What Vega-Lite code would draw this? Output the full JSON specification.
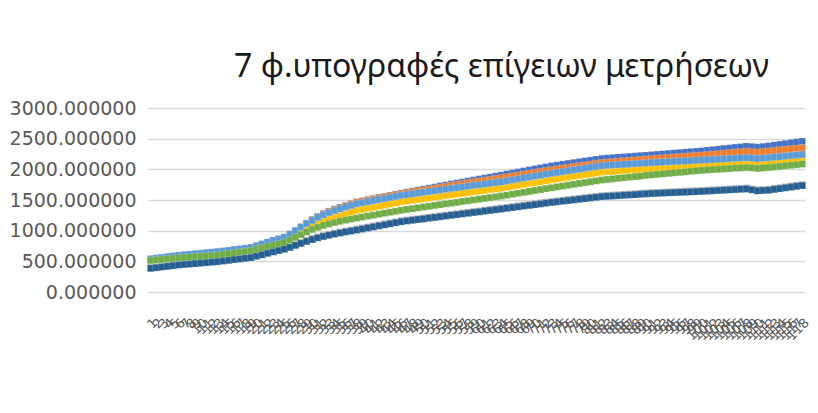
{
  "$schema": "https://vega.github.io/schema/vega-lite/v6.json",
  "width": 657,
  "height": 184,
  "autosize": {"type": "none"},
  "padding": {"left": 148, "top": 108, "right": 13, "bottom": 121},
  "background": "#ffffff",
  "title": {
    "text": "7 φ.υπογραφές επίγειων μετρήσεων",
    "font": "Noto Sans",
    "fontSize": 32,
    "fontWeight": "normal",
    "color": "#1a1a1a",
    "anchor": "middle",
    "dx": 25,
    "dy": 30,
    "offset": 20,
    "baseline": "alphabetic"
  },
  "config": {
    "view": {"stroke": null},
    "axis": {"labelFont": "DejaVu Sans", "labelColor": "#595959", "domain": false, "ticks": false, "title": null}
  },
  "datasets": {
    "s1": [{"n":1,"v":535},{"n":2,"v":546},{"n":3,"v":558},{"n":4,"v":569},{"n":5,"v":581},{"n":6,"v":592},{"n":7,"v":601},{"n":8,"v":609},{"n":9,"v":618},{"n":10,"v":626},{"n":11,"v":635},{"n":12,"v":643},{"n":13,"v":652},{"n":14,"v":663},{"n":15,"v":675},{"n":16,"v":686},{"n":17,"v":697},{"n":18,"v":709},{"n":19,"v":720},{"n":20,"v":749},{"n":21,"v":778},{"n":22,"v":808},{"n":23,"v":837},{"n":24,"v":862},{"n":25,"v":890},{"n":26,"v":940},{"n":27,"v":998},{"n":28,"v":1060},{"n":29,"v":1122},{"n":30,"v":1180},{"n":31,"v":1233},{"n":32,"v":1278},{"n":33,"v":1316},{"n":34,"v":1350},{"n":35,"v":1380},{"n":36,"v":1408},{"n":37,"v":1437},{"n":38,"v":1467},{"n":39,"v":1485},{"n":40,"v":1503},{"n":41,"v":1521},{"n":42,"v":1539},{"n":43,"v":1556},{"n":44,"v":1574},{"n":45,"v":1592},{"n":46,"v":1610},{"n":47,"v":1627},{"n":48,"v":1643},{"n":49,"v":1660},{"n":50,"v":1677},{"n":51,"v":1693},{"n":52,"v":1710},{"n":53,"v":1727},{"n":54,"v":1743},{"n":55,"v":1760},{"n":56,"v":1776},{"n":57,"v":1792},{"n":58,"v":1808},{"n":59,"v":1824},{"n":60,"v":1841},{"n":61,"v":1857},{"n":62,"v":1873},{"n":63,"v":1889},{"n":64,"v":1905},{"n":65,"v":1922},{"n":66,"v":1938},{"n":67,"v":1955},{"n":68,"v":1972},{"n":69,"v":1988},{"n":70,"v":2005},{"n":71,"v":2022},{"n":72,"v":2038},{"n":73,"v":2055},{"n":74,"v":2068},{"n":75,"v":2082},{"n":76,"v":2095},{"n":77,"v":2108},{"n":78,"v":2122},{"n":79,"v":2135},{"n":80,"v":2148},{"n":81,"v":2162},{"n":82,"v":2175},{"n":83,"v":2182},{"n":84,"v":2188},{"n":85,"v":2195},{"n":86,"v":2202},{"n":87,"v":2208},{"n":88,"v":2215},{"n":89,"v":2222},{"n":90,"v":2228},{"n":91,"v":2235},{"n":92,"v":2242},{"n":93,"v":2249},{"n":94,"v":2257},{"n":95,"v":2264},{"n":96,"v":2271},{"n":97,"v":2278},{"n":98,"v":2286},{"n":99,"v":2293},{"n":100,"v":2300},{"n":101,"v":2309},{"n":102,"v":2319},{"n":103,"v":2328},{"n":104,"v":2338},{"n":105,"v":2347},{"n":106,"v":2356},{"n":107,"v":2366},{"n":108,"v":2375},{"n":109,"v":2368},{"n":110,"v":2360},{"n":111,"v":2370},{"n":112,"v":2380},{"n":113,"v":2393},{"n":114,"v":2405},{"n":115,"v":2418},{"n":116,"v":2431},{"n":117,"v":2443},{"n":118,"v":2456}],
    "s2": [{"n":1,"v":533},{"n":2,"v":544},{"n":3,"v":556},{"n":4,"v":567},{"n":5,"v":579},{"n":6,"v":590},{"n":7,"v":599},{"n":8,"v":607},{"n":9,"v":616},{"n":10,"v":624},{"n":11,"v":633},{"n":12,"v":641},{"n":13,"v":650},{"n":14,"v":661},{"n":15,"v":673},{"n":16,"v":684},{"n":17,"v":695},{"n":18,"v":707},{"n":19,"v":718},{"n":20,"v":747},{"n":21,"v":775},{"n":22,"v":804},{"n":23,"v":833},{"n":24,"v":857},{"n":25,"v":885},{"n":26,"v":935},{"n":27,"v":993},{"n":28,"v":1055},{"n":29,"v":1117},{"n":30,"v":1175},{"n":31,"v":1228},{"n":32,"v":1273},{"n":33,"v":1311},{"n":34,"v":1345},{"n":35,"v":1375},{"n":36,"v":1403},{"n":37,"v":1432},{"n":38,"v":1462},{"n":39,"v":1479},{"n":40,"v":1497},{"n":41,"v":1514},{"n":42,"v":1531},{"n":43,"v":1548},{"n":44,"v":1566},{"n":45,"v":1583},{"n":46,"v":1600},{"n":47,"v":1615},{"n":48,"v":1630},{"n":49,"v":1645},{"n":50,"v":1660},{"n":51,"v":1675},{"n":52,"v":1690},{"n":53,"v":1705},{"n":54,"v":1720},{"n":55,"v":1735},{"n":56,"v":1749},{"n":57,"v":1763},{"n":58,"v":1777},{"n":59,"v":1791},{"n":60,"v":1804},{"n":61,"v":1818},{"n":62,"v":1832},{"n":63,"v":1846},{"n":64,"v":1860},{"n":65,"v":1874},{"n":66,"v":1889},{"n":67,"v":1903},{"n":68,"v":1918},{"n":69,"v":1932},{"n":70,"v":1947},{"n":71,"v":1961},{"n":72,"v":1976},{"n":73,"v":1990},{"n":74,"v":2003},{"n":75,"v":2016},{"n":76,"v":2028},{"n":77,"v":2041},{"n":78,"v":2054},{"n":79,"v":2067},{"n":80,"v":2079},{"n":81,"v":2092},{"n":82,"v":2105},{"n":83,"v":2112},{"n":84,"v":2119},{"n":85,"v":2127},{"n":86,"v":2134},{"n":87,"v":2141},{"n":88,"v":2148},{"n":89,"v":2155},{"n":90,"v":2163},{"n":91,"v":2170},{"n":92,"v":2176},{"n":93,"v":2183},{"n":94,"v":2189},{"n":95,"v":2196},{"n":96,"v":2202},{"n":97,"v":2209},{"n":98,"v":2215},{"n":99,"v":2222},{"n":100,"v":2228},{"n":101,"v":2236},{"n":102,"v":2244},{"n":103,"v":2251},{"n":104,"v":2259},{"n":105,"v":2267},{"n":106,"v":2275},{"n":107,"v":2282},{"n":108,"v":2290},{"n":109,"v":2283},{"n":110,"v":2275},{"n":111,"v":2285},{"n":112,"v":2295},{"n":113,"v":2304},{"n":114,"v":2313},{"n":115,"v":2323},{"n":116,"v":2332},{"n":117,"v":2341},{"n":118,"v":2350}],
    "s3": [{"n":1,"v":400},{"n":2,"v":411},{"n":3,"v":422},{"n":4,"v":433},{"n":5,"v":444},{"n":6,"v":455},{"n":7,"v":463},{"n":8,"v":470},{"n":9,"v":478},{"n":10,"v":486},{"n":11,"v":494},{"n":12,"v":501},{"n":13,"v":509},{"n":14,"v":520},{"n":15,"v":531},{"n":16,"v":543},{"n":17,"v":554},{"n":18,"v":565},{"n":19,"v":576},{"n":20,"v":599},{"n":21,"v":622},{"n":22,"v":646},{"n":23,"v":669},{"n":24,"v":690},{"n":25,"v":712},{"n":26,"v":742},{"n":27,"v":775},{"n":28,"v":808},{"n":29,"v":840},{"n":30,"v":870},{"n":31,"v":897},{"n":32,"v":920},{"n":33,"v":940},{"n":34,"v":959},{"n":35,"v":977},{"n":36,"v":994},{"n":37,"v":1009},{"n":38,"v":1025},{"n":39,"v":1042},{"n":40,"v":1059},{"n":41,"v":1076},{"n":42,"v":1093},{"n":43,"v":1110},{"n":44,"v":1127},{"n":45,"v":1144},{"n":46,"v":1161},{"n":47,"v":1173},{"n":48,"v":1184},{"n":49,"v":1196},{"n":50,"v":1207},{"n":51,"v":1219},{"n":52,"v":1230},{"n":53,"v":1242},{"n":54,"v":1253},{"n":55,"v":1265},{"n":56,"v":1276},{"n":57,"v":1288},{"n":58,"v":1299},{"n":59,"v":1311},{"n":60,"v":1322},{"n":61,"v":1334},{"n":62,"v":1345},{"n":63,"v":1357},{"n":64,"v":1368},{"n":65,"v":1380},{"n":66,"v":1392},{"n":67,"v":1404},{"n":68,"v":1416},{"n":69,"v":1427},{"n":70,"v":1439},{"n":71,"v":1451},{"n":72,"v":1463},{"n":73,"v":1475},{"n":74,"v":1485},{"n":75,"v":1496},{"n":76,"v":1506},{"n":77,"v":1517},{"n":78,"v":1527},{"n":79,"v":1538},{"n":80,"v":1548},{"n":81,"v":1559},{"n":82,"v":1569},{"n":83,"v":1575},{"n":84,"v":1580},{"n":85,"v":1586},{"n":86,"v":1592},{"n":87,"v":1597},{"n":88,"v":1603},{"n":89,"v":1609},{"n":90,"v":1614},{"n":91,"v":1620},{"n":92,"v":1624},{"n":93,"v":1628},{"n":94,"v":1632},{"n":95,"v":1636},{"n":96,"v":1639},{"n":97,"v":1643},{"n":98,"v":1647},{"n":99,"v":1651},{"n":100,"v":1655},{"n":101,"v":1660},{"n":102,"v":1665},{"n":103,"v":1670},{"n":104,"v":1675},{"n":105,"v":1680},{"n":106,"v":1685},{"n":107,"v":1690},{"n":108,"v":1695},{"n":109,"v":1680},{"n":110,"v":1665},{"n":111,"v":1670},{"n":112,"v":1675},{"n":113,"v":1688},{"n":114,"v":1700},{"n":115,"v":1713},{"n":116,"v":1725},{"n":117,"v":1738},{"n":118,"v":1750}],
    "s4": [{"n":1,"v":520},{"n":2,"v":528},{"n":3,"v":536},{"n":4,"v":544},{"n":5,"v":552},{"n":6,"v":560},{"n":7,"v":566},{"n":8,"v":573},{"n":9,"v":579},{"n":10,"v":586},{"n":11,"v":592},{"n":12,"v":599},{"n":13,"v":605},{"n":14,"v":618},{"n":15,"v":630},{"n":16,"v":643},{"n":17,"v":655},{"n":18,"v":668},{"n":19,"v":680},{"n":20,"v":705},{"n":21,"v":730},{"n":22,"v":755},{"n":23,"v":780},{"n":24,"v":800},{"n":25,"v":825},{"n":26,"v":868},{"n":27,"v":918},{"n":28,"v":970},{"n":29,"v":1022},{"n":30,"v":1070},{"n":31,"v":1115},{"n":32,"v":1152},{"n":33,"v":1185},{"n":34,"v":1216},{"n":35,"v":1244},{"n":36,"v":1273},{"n":37,"v":1301},{"n":38,"v":1330},{"n":39,"v":1348},{"n":40,"v":1365},{"n":41,"v":1383},{"n":42,"v":1400},{"n":43,"v":1418},{"n":44,"v":1435},{"n":45,"v":1453},{"n":46,"v":1470},{"n":47,"v":1483},{"n":48,"v":1496},{"n":49,"v":1508},{"n":50,"v":1521},{"n":51,"v":1534},{"n":52,"v":1547},{"n":53,"v":1559},{"n":54,"v":1572},{"n":55,"v":1585},{"n":56,"v":1597},{"n":57,"v":1609},{"n":58,"v":1622},{"n":59,"v":1634},{"n":60,"v":1646},{"n":61,"v":1658},{"n":62,"v":1671},{"n":63,"v":1683},{"n":64,"v":1695},{"n":65,"v":1710},{"n":66,"v":1725},{"n":67,"v":1740},{"n":68,"v":1755},{"n":69,"v":1770},{"n":70,"v":1785},{"n":71,"v":1800},{"n":72,"v":1815},{"n":73,"v":1830},{"n":74,"v":1844},{"n":75,"v":1858},{"n":76,"v":1872},{"n":77,"v":1886},{"n":78,"v":1899},{"n":79,"v":1913},{"n":80,"v":1927},{"n":81,"v":1941},{"n":82,"v":1955},{"n":83,"v":1962},{"n":84,"v":1968},{"n":85,"v":1975},{"n":86,"v":1982},{"n":87,"v":1988},{"n":88,"v":1995},{"n":89,"v":2002},{"n":90,"v":2008},{"n":91,"v":2015},{"n":92,"v":2021},{"n":93,"v":2026},{"n":94,"v":2032},{"n":95,"v":2037},{"n":96,"v":2043},{"n":97,"v":2048},{"n":98,"v":2054},{"n":99,"v":2059},{"n":100,"v":2065},{"n":101,"v":2071},{"n":102,"v":2076},{"n":103,"v":2082},{"n":104,"v":2088},{"n":105,"v":2093},{"n":106,"v":2099},{"n":107,"v":2104},{"n":108,"v":2110},{"n":109,"v":2103},{"n":110,"v":2095},{"n":111,"v":2103},{"n":112,"v":2110},{"n":113,"v":2118},{"n":114,"v":2127},{"n":115,"v":2135},{"n":116,"v":2143},{"n":117,"v":2152},{"n":118,"v":2160}],
    "s5": [{"n":1,"v":540},{"n":2,"v":552},{"n":3,"v":563},{"n":4,"v":575},{"n":5,"v":586},{"n":6,"v":598},{"n":7,"v":606},{"n":8,"v":615},{"n":9,"v":623},{"n":10,"v":632},{"n":11,"v":640},{"n":12,"v":649},{"n":13,"v":657},{"n":14,"v":668},{"n":15,"v":679},{"n":16,"v":691},{"n":17,"v":702},{"n":18,"v":713},{"n":19,"v":724},{"n":20,"v":753},{"n":21,"v":783},{"n":22,"v":812},{"n":23,"v":841},{"n":24,"v":867},{"n":25,"v":895},{"n":26,"v":944},{"n":27,"v":1000},{"n":28,"v":1058},{"n":29,"v":1115},{"n":30,"v":1168},{"n":31,"v":1218},{"n":32,"v":1260},{"n":33,"v":1296},{"n":34,"v":1328},{"n":35,"v":1357},{"n":36,"v":1385},{"n":37,"v":1412},{"n":38,"v":1440},{"n":39,"v":1457},{"n":40,"v":1474},{"n":41,"v":1491},{"n":42,"v":1508},{"n":43,"v":1524},{"n":44,"v":1541},{"n":45,"v":1558},{"n":46,"v":1575},{"n":47,"v":1588},{"n":48,"v":1601},{"n":49,"v":1613},{"n":50,"v":1626},{"n":51,"v":1639},{"n":52,"v":1652},{"n":53,"v":1664},{"n":54,"v":1677},{"n":55,"v":1690},{"n":56,"v":1702},{"n":57,"v":1714},{"n":58,"v":1726},{"n":59,"v":1738},{"n":60,"v":1750},{"n":61,"v":1762},{"n":62,"v":1774},{"n":63,"v":1786},{"n":64,"v":1798},{"n":65,"v":1813},{"n":66,"v":1828},{"n":67,"v":1844},{"n":68,"v":1859},{"n":69,"v":1874},{"n":70,"v":1889},{"n":71,"v":1905},{"n":72,"v":1920},{"n":73,"v":1935},{"n":74,"v":1949},{"n":75,"v":1963},{"n":76,"v":1977},{"n":77,"v":1991},{"n":78,"v":2004},{"n":79,"v":2018},{"n":80,"v":2032},{"n":81,"v":2046},{"n":82,"v":2060},{"n":83,"v":2066},{"n":84,"v":2071},{"n":85,"v":2077},{"n":86,"v":2082},{"n":87,"v":2088},{"n":88,"v":2093},{"n":89,"v":2099},{"n":90,"v":2104},{"n":91,"v":2110},{"n":92,"v":2114},{"n":93,"v":2119},{"n":94,"v":2123},{"n":95,"v":2128},{"n":96,"v":2132},{"n":97,"v":2137},{"n":98,"v":2141},{"n":99,"v":2146},{"n":100,"v":2150},{"n":101,"v":2155},{"n":102,"v":2160},{"n":103,"v":2165},{"n":104,"v":2170},{"n":105,"v":2175},{"n":106,"v":2180},{"n":107,"v":2185},{"n":108,"v":2190},{"n":109,"v":2183},{"n":110,"v":2175},{"n":111,"v":2183},{"n":112,"v":2190},{"n":113,"v":2199},{"n":114,"v":2207},{"n":115,"v":2216},{"n":116,"v":2225},{"n":117,"v":2233},{"n":118,"v":2242}],
    "s6": [{"n":1,"v":515},{"n":2,"v":523},{"n":3,"v":531},{"n":4,"v":538},{"n":5,"v":546},{"n":6,"v":554},{"n":7,"v":560},{"n":8,"v":567},{"n":9,"v":573},{"n":10,"v":579},{"n":11,"v":585},{"n":12,"v":592},{"n":13,"v":598},{"n":14,"v":611},{"n":15,"v":623},{"n":16,"v":636},{"n":17,"v":648},{"n":18,"v":661},{"n":19,"v":673},{"n":20,"v":696},{"n":21,"v":719},{"n":22,"v":742},{"n":23,"v":764},{"n":24,"v":783},{"n":25,"v":806},{"n":26,"v":845},{"n":27,"v":890},{"n":28,"v":935},{"n":29,"v":980},{"n":30,"v":1020},{"n":31,"v":1055},{"n":32,"v":1085},{"n":33,"v":1110},{"n":34,"v":1133},{"n":35,"v":1153},{"n":36,"v":1172},{"n":37,"v":1189},{"n":38,"v":1206},{"n":39,"v":1222},{"n":40,"v":1238},{"n":41,"v":1254},{"n":42,"v":1270},{"n":43,"v":1285},{"n":44,"v":1301},{"n":45,"v":1317},{"n":46,"v":1333},{"n":47,"v":1346},{"n":48,"v":1359},{"n":49,"v":1372},{"n":50,"v":1385},{"n":51,"v":1398},{"n":52,"v":1411},{"n":53,"v":1424},{"n":54,"v":1437},{"n":55,"v":1450},{"n":56,"v":1463},{"n":57,"v":1476},{"n":58,"v":1488},{"n":59,"v":1501},{"n":60,"v":1514},{"n":61,"v":1527},{"n":62,"v":1539},{"n":63,"v":1552},{"n":64,"v":1565},{"n":65,"v":1580},{"n":66,"v":1595},{"n":67,"v":1610},{"n":68,"v":1625},{"n":69,"v":1640},{"n":70,"v":1655},{"n":71,"v":1670},{"n":72,"v":1685},{"n":73,"v":1700},{"n":74,"v":1714},{"n":75,"v":1728},{"n":76,"v":1742},{"n":77,"v":1756},{"n":78,"v":1770},{"n":79,"v":1784},{"n":80,"v":1798},{"n":81,"v":1812},{"n":82,"v":1826},{"n":83,"v":1835},{"n":84,"v":1845},{"n":85,"v":1854},{"n":86,"v":1863},{"n":87,"v":1873},{"n":88,"v":1882},{"n":89,"v":1891},{"n":90,"v":1901},{"n":91,"v":1910},{"n":92,"v":1918},{"n":93,"v":1926},{"n":94,"v":1935},{"n":95,"v":1943},{"n":96,"v":1951},{"n":97,"v":1959},{"n":98,"v":1968},{"n":99,"v":1976},{"n":100,"v":1984},{"n":101,"v":1990},{"n":102,"v":1996},{"n":103,"v":2001},{"n":104,"v":2007},{"n":105,"v":2013},{"n":106,"v":2019},{"n":107,"v":2024},{"n":108,"v":2030},{"n":109,"v":2023},{"n":110,"v":2015},{"n":111,"v":2023},{"n":112,"v":2030},{"n":113,"v":2039},{"n":114,"v":2048},{"n":115,"v":2058},{"n":116,"v":2067},{"n":117,"v":2076},{"n":118,"v":2085}],
    "s7": [{"n":1,"v":385},{"n":2,"v":396},{"n":3,"v":407},{"n":4,"v":418},{"n":5,"v":429},{"n":6,"v":440},{"n":7,"v":448},{"n":8,"v":455},{"n":9,"v":463},{"n":10,"v":471},{"n":11,"v":479},{"n":12,"v":486},{"n":13,"v":494},{"n":14,"v":505},{"n":15,"v":516},{"n":16,"v":528},{"n":17,"v":539},{"n":18,"v":550},{"n":19,"v":561},{"n":20,"v":584},{"n":21,"v":607},{"n":22,"v":631},{"n":23,"v":654},{"n":24,"v":675},{"n":25,"v":697},{"n":26,"v":727},{"n":27,"v":760},{"n":28,"v":793},{"n":29,"v":825},{"n":30,"v":855},{"n":31,"v":882},{"n":32,"v":905},{"n":33,"v":925},{"n":34,"v":944},{"n":35,"v":962},{"n":36,"v":979},{"n":37,"v":994},{"n":38,"v":1010},{"n":39,"v":1027},{"n":40,"v":1044},{"n":41,"v":1061},{"n":42,"v":1078},{"n":43,"v":1095},{"n":44,"v":1112},{"n":45,"v":1129},{"n":46,"v":1146},{"n":47,"v":1158},{"n":48,"v":1169},{"n":49,"v":1181},{"n":50,"v":1192},{"n":51,"v":1204},{"n":52,"v":1215},{"n":53,"v":1227},{"n":54,"v":1238},{"n":55,"v":1250},{"n":56,"v":1261},{"n":57,"v":1273},{"n":58,"v":1284},{"n":59,"v":1296},{"n":60,"v":1307},{"n":61,"v":1319},{"n":62,"v":1330},{"n":63,"v":1342},{"n":64,"v":1353},{"n":65,"v":1365},{"n":66,"v":1377},{"n":67,"v":1389},{"n":68,"v":1401},{"n":69,"v":1412},{"n":70,"v":1424},{"n":71,"v":1436},{"n":72,"v":1448},{"n":73,"v":1460},{"n":74,"v":1470},{"n":75,"v":1481},{"n":76,"v":1491},{"n":77,"v":1502},{"n":78,"v":1512},{"n":79,"v":1523},{"n":80,"v":1533},{"n":81,"v":1544},{"n":82,"v":1554},{"n":83,"v":1560},{"n":84,"v":1565},{"n":85,"v":1571},{"n":86,"v":1577},{"n":87,"v":1582},{"n":88,"v":1588},{"n":89,"v":1594},{"n":90,"v":1599},{"n":91,"v":1605},{"n":92,"v":1609},{"n":93,"v":1613},{"n":94,"v":1617},{"n":95,"v":1621},{"n":96,"v":1624},{"n":97,"v":1628},{"n":98,"v":1632},{"n":99,"v":1636},{"n":100,"v":1640},{"n":101,"v":1645},{"n":102,"v":1650},{"n":103,"v":1655},{"n":104,"v":1660},{"n":105,"v":1665},{"n":106,"v":1670},{"n":107,"v":1675},{"n":108,"v":1680},{"n":109,"v":1665},{"n":110,"v":1650},{"n":111,"v":1655},{"n":112,"v":1660},{"n":113,"v":1673},{"n":114,"v":1685},{"n":115,"v":1698},{"n":116,"v":1710},{"n":117,"v":1723},{"n":118,"v":1735}]
  },
  "encoding": {
    "x": {
      "field": "n",
      "type": "ordinal",
      "scale": {"type": "point", "padding": 0.5},
      "axis": {"labelAngle": -45, "labelFontSize": 13, "labelOverlap": false, "labelPadding": 24, "grid": false}
    },
    "y": {
      "field": "v",
      "type": "quantitative",
      "scale": {"domain": [0, 3000], "nice": false, "zero": true},
      "axis": {"values": [0, 500, 1000, 1500, 2000, 2500, 3000], "format": ".6f", "labelFontSize": 19, "labelPadding": 12, "grid": true, "gridColor": "#d9d9d9", "gridWidth": 1.5}
    }
  },
  "layer": [
    {"data": {"name": "s1"}, "mark": {"type": "line", "color": "#4472C4", "strokeWidth": 2.5, "point": {"shape": "square", "size": 46, "filled": true, "color": "#4472C4", "stroke": "#ffffff", "strokeOpacity": 0.3, "strokeWidth": 0.6}}},
    {"data": {"name": "s2"}, "mark": {"type": "line", "color": "#ED7D31", "strokeWidth": 2.5, "point": {"shape": "square", "size": 46, "filled": true, "color": "#ED7D31", "stroke": "#ffffff", "strokeOpacity": 0.3, "strokeWidth": 0.6}}},
    {"data": {"name": "s3"}, "mark": {"type": "line", "color": "#A5A5A5", "strokeWidth": 2.5, "point": {"shape": "square", "size": 46, "filled": true, "color": "#A5A5A5", "stroke": "#ffffff", "strokeOpacity": 0.3, "strokeWidth": 0.6}}},
    {"data": {"name": "s4"}, "mark": {"type": "line", "color": "#FFC000", "strokeWidth": 2.5, "point": {"shape": "square", "size": 46, "filled": true, "color": "#FFC000", "stroke": "#ffffff", "strokeOpacity": 0.3, "strokeWidth": 0.6}}},
    {"data": {"name": "s5"}, "mark": {"type": "line", "color": "#5B9BD5", "strokeWidth": 2.5, "point": {"shape": "square", "size": 46, "filled": true, "color": "#5B9BD5", "stroke": "#ffffff", "strokeOpacity": 0.3, "strokeWidth": 0.6}}},
    {"data": {"name": "s6"}, "mark": {"type": "line", "color": "#70AD47", "strokeWidth": 2.5, "point": {"shape": "square", "size": 46, "filled": true, "color": "#70AD47", "stroke": "#ffffff", "strokeOpacity": 0.3, "strokeWidth": 0.6}}},
    {"data": {"name": "s7"}, "mark": {"type": "line", "color": "#255E91", "strokeWidth": 2.5, "point": {"shape": "square", "size": 46, "filled": true, "color": "#255E91", "stroke": "#ffffff", "strokeOpacity": 0.3, "strokeWidth": 0.6}}}
  ]
}
